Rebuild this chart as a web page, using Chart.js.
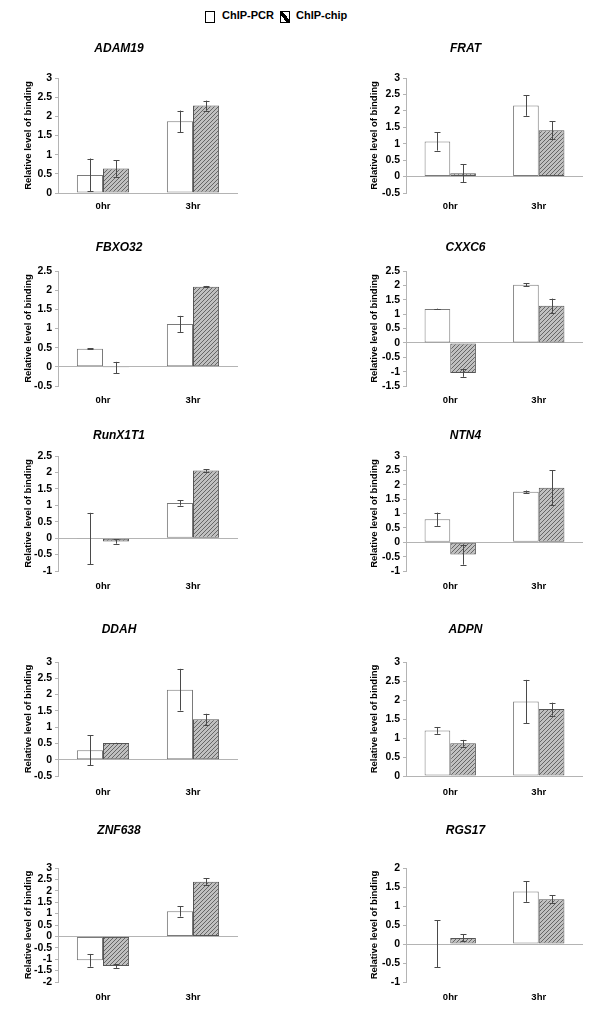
<!DOCTYPE html>
<html>
<head>
<meta charset="utf-8">
<script src="https://cdn.jsdelivr.net/npm/chart.js"></script>
<style>
  body { margin: 0; background: #fff; overflow: hidden; width: 600px; height: 1019px; position: relative; font-family: 'Liberation Sans', Arial, sans-serif; }
  canvas { position: absolute; }
  .key { position: absolute; top: 11px; width: 8px; height: 10px; border: 1px solid #000; background: #fff; }
  .key.hatch { background: linear-gradient(to top right, #fff 34%, #000 34%, #000 62%, #fff 62%); }
  .lbl { position: absolute; top: 9px; font-size: 11px; font-weight: bold; color: #000; }
</style>
</head>
<body>
<div class="key" style="left:205px"></div>
<div class="lbl" style="left:222px">ChIP-PCR</div>
<div class="key hatch" style="left:280px"></div>
<div class="lbl" style="left:296px">ChIP-chip</div>
<script>
// values
const genes = ['ADAM19', 'FRAT', 'FBXO32', 'CXXC6', 'RunX1T1', 'NTN4', 'DDAH', 'ADPN', 'ZNF638', 'RGS17'];
const timepoints = ['0hr', '3hr'];
const pcrValues  = [[0.47, 1.87], [1.07, 2.16], [0.47, 1.12], [1.18, 2.02], [-0.01, 1.07], [0.80, 1.76], [0.29, 2.15], [1.20, 1.96], [-1.05, 1.10], [0.01, 1.38]];
const pcrErrors  = [[0.43, 0.28], [0.28, 0.31], [0.01, 0.21], [0.01, 0.05], [0.78, 0.08], [0.23, 0.04], [0.46, 0.64], [0.09, 0.57], [0.28, 0.23], [0.62, 0.27]];
const chipValues = [[0.64, 2.28], [0.10, 1.41], [-0.02, 2.09], [-1.05, 1.29], [-0.10, 2.06], [-0.43, 1.90], [0.51, 1.24], [0.86, 1.76], [-1.30, 2.40], [0.16, 1.18]];
const chipErrors = [[0.22, 0.13], [0.28, 0.27], [0.15, 0.02], [0.13, 0.25], [0.07, 0.04], [0.35, 0.61], [0.01, 0.17], [0.09, 0.17], [0.08, 0.15], [0.09, 0.10]];
const yMin = [0, -0.5, -0.5, -1.5, -1, -1, -0.5, 0, -2, -1];
const yMax = [3, 3, 2.5, 2.5, 2.5, 3, 3, 3, 3, 2];
const yTitle = 'Relative level of binding';

// page layout per row (pixels)
const rowTitleY = [49, 248, 436, 630, 831];
const rowPlotTop = [78, 271, 456, 662, 868];
const rowPlotBottom = [193, 386, 571, 776, 982];
const rowLabelY = [206, 400, 586, 792, 997];

Chart.defaults.font.family = "'Liberation Sans', Arial, sans-serif";
Chart.defaults.color = '#000';

// diagonal hatch for ChIP-chip bars
const tile = document.createElement('canvas');
tile.width = 4; tile.height = 4;
const tctx = tile.getContext('2d');
tctx.fillStyle = '#c0c0c0';
tctx.fillRect(0, 0, 4, 4);
tctx.fillStyle = '#666';
for (let i = 0; i < 4; i++) tctx.fillRect(i, 3 - i, 1, 1);

const errorBars = {
  id: 'errorBars',
  afterDatasetsDraw(chart) {
    const ctx = chart.ctx;
    const y = chart.scales.y;
    ctx.save();
    ctx.strokeStyle = '#4a4a4a';
    ctx.lineWidth = 1;
    chart.data.datasets.forEach((ds, di) => {
      chart.getDatasetMeta(di).data.forEach((bar, i) => {
        const hi = y.getPixelForValue(ds.data[i] + ds.errors[i]);
        const lo = y.getPixelForValue(ds.data[i] - ds.errors[i]);
        const x = Math.round(bar.x) + 0.5;
        ctx.beginPath();
        ctx.moveTo(x, hi); ctx.lineTo(x, lo);
        ctx.moveTo(x - 3, Math.round(hi) + 0.5); ctx.lineTo(x + 3, Math.round(hi) + 0.5);
        ctx.moveTo(x - 3, Math.round(lo) + 0.5); ctx.lineTo(x + 3, Math.round(lo) + 0.5);
        ctx.stroke();
      });
    });
    ctx.restore();
  }
};

genes.forEach((gene, i) => {
  const col = i % 2, row = Math.floor(i / 2);
  const left = col ? 348 : 0;
  const width = col ? 252 : 274;
  const plotRight = col ? 235 : 238;
  const top = rowTitleY[row] - 12;
  const xAxisH = 24;
  const height = rowPlotBottom[row] - top + xAxisH;

  const cv = document.createElement('canvas');
  cv.width = width; cv.height = height;
  cv.style.left = left + 'px'; cv.style.top = top + 'px';
  document.body.appendChild(cv);
  const pattern = cv.getContext('2d').createPattern(tile, 'repeat');

  new Chart(cv, {
    type: 'bar',
    data: {
      labels: timepoints,
      datasets: [
        { label: 'ChIP-PCR', data: pcrValues[i], errors: pcrErrors[i],
          backgroundColor: '#fff', borderColor: '#7a7a7a', borderWidth: 1, borderSkipped: false },
        { label: 'ChIP-chip', data: chipValues[i], errors: chipErrors[i],
          backgroundColor: pattern, borderColor: '#555', borderWidth: 1, borderSkipped: false }
      ]
    },
    options: {
      responsive: false,
      animation: false,
      devicePixelRatio: 1,
      categoryPercentage: 0.58,
      barPercentage: 1.0,
      layout: { padding: { left: 0, right: width - plotRight, top: 0, bottom: 0 } },
      plugins: {
        legend: { display: false },
        tooltip: { enabled: false },
        title: {
          display: true, text: gene, color: '#000',
          font: { size: 12, weight: 'bold', style: 'italic' },
          padding: { top: 4.8, bottom: rowPlotTop[row] - rowTitleY[row] - 7.2 }
        }
      },
      scales: {
        x: {
          grid: { display: false, drawTicks: false },
          border: { display: false },
          ticks: { font: { size: 9.5, weight: 'bold' }, color: '#000', padding: rowLabelY[row] - rowPlotBottom[row] - 5.7 },
          afterFit: (axis) => { axis.height = xAxisH; }
        },
        y: {
          min: yMin[i], max: yMax[i],
          ticks: {
            stepSize: 0.5, autoSkip: false, font: { size: 10.5, weight: 'bold' }, color: '#000', padding: 3,
            callback: (v) => String(Math.round(v * 10) / 10)
          },
          grid: {
            drawOnChartArea: true, drawTicks: true, tickLength: 3,
            color: (c) => (c.tick && c.tick.value === 0 ? '#b4b4b4' : 'rgba(0,0,0,0)'),
            tickColor: '#b4b4b4'
          },
          border: { display: true, color: '#b4b4b4' },
          title: {
            display: true, text: yTitle, color: '#000',
            font: { size: 9.5, weight: 'bold' },
            padding: { top: (col ? 26 : 28.3) - 5.7, bottom: 0 }
          },
          afterFit: (axis) => { axis.width = 58; }
        }
      }
    },
    plugins: [errorBars]
  });
});
</script>
</body>
</html>
